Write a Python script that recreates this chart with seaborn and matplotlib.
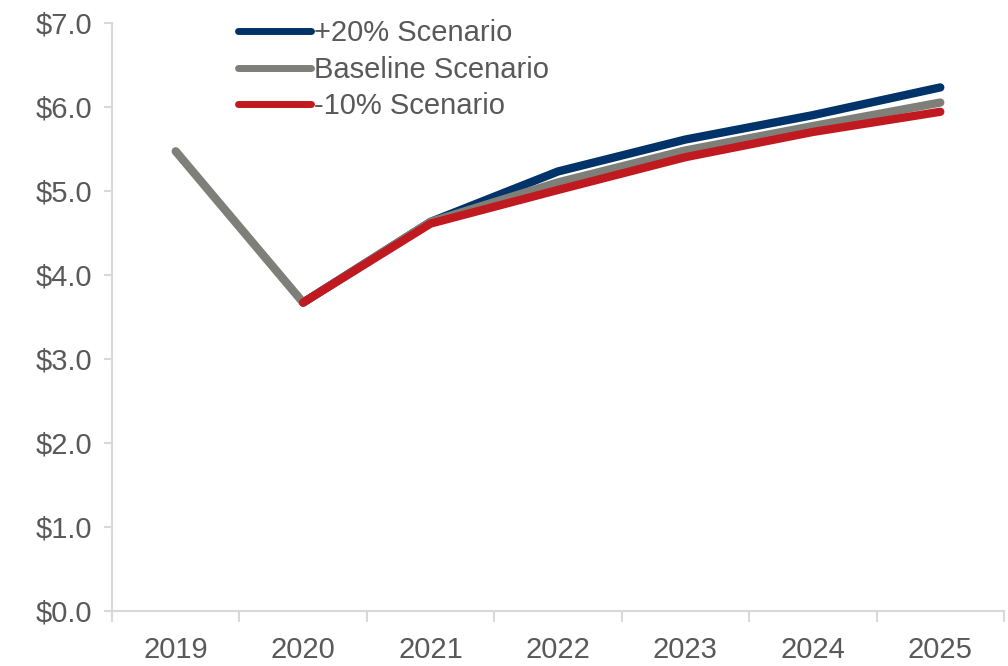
import matplotlib
matplotlib.use("Agg")
import matplotlib.pyplot as plt
import seaborn as sns
import pandas as pd
import numpy as np
from matplotlib.ticker import FuncFormatter, FixedLocator

years = [2019, 2020, 2021, 2022, 2023, 2024, 2025]
series_names = ["+20% Scenario", "Baseline Scenario", "-10% Scenario"]
up20 = [None, 3.67, 4.63, 5.23, 5.61, 5.90, 6.23]
baseline = [5.47, 3.67, 4.63, 5.10, 5.48, 5.77, 6.05]
down10 = [None, 3.67, 4.61, 5.01, 5.40, 5.70, 5.94]
colors = ["#00336A", "#7F7F7A", "#C0191F"]
y_ticks = [0, 1, 2, 3, 4, 5, 6, 7]

rows = []
for name, vals in zip(series_names, [up20, baseline, down10]):
    for yr, v in zip(years, vals):
        if v is not None:
            rows.append({"Year": yr, "Value": v, "Scenario": name})
df = pd.DataFrame(rows)

sns.set_theme(style="white")
plt.rcParams["font.family"] = ["Liberation Sans", "DejaVu Sans"]

fig = plt.figure(figsize=(10.08, 6.66), dpi=100)
ax = fig.add_axes([112 / 1008, 55 / 666, (1004 - 112) / 1008, (611 - 22.7) / 666])

sns.lineplot(data=df, x="Year", y="Value", hue="Scenario", hue_order=series_names,
             palette=colors, linewidth=6, solid_capstyle="round", ax=ax, legend=True)

ax.set_xlim(years[0] - 0.5, years[-1] + 0.5)
ax.set_ylim(0, 7)
ax.set_yticks(y_ticks)
ax.yaxis.set_major_formatter(FuncFormatter(lambda v, p: f"${v:.1f}"))
ax.set_xticks(years)
ax.set_xticklabels([str(y) for y in years])
ax.xaxis.set_minor_locator(FixedLocator([y - 0.5 for y in years] + [years[-1] + 0.5]))
ax.set_xlabel("")
ax.set_ylabel("")

for s in ["top", "right"]:
    ax.spines[s].set_visible(False)
for s in ["left", "bottom"]:
    ax.spines[s].set_color("#D9D9D9")
    ax.spines[s].set_linewidth(1.5)

ax.tick_params(axis="y", which="major", left=True, length=6, width=1.5, color="#D9D9D9",
               labelsize=21, labelcolor="#595959", pad=8)
ax.tick_params(axis="x", which="major", bottom=False, length=0, labelsize=21,
               labelcolor="#595959", pad=18)
ax.tick_params(axis="x", which="minor", bottom=True, length=8, width=1.5, color="#D9D9D9")

leg = ax.legend(loc="upper left", bbox_to_anchor=(238 / 1008, 1 - 19 / 666),
                bbox_transform=fig.transFigure, frameon=False, fontsize=21,
                handlelength=2.5, handletextpad=0.1, labelspacing=0.3,
                borderaxespad=0, borderpad=0)
for t in leg.get_texts():
    t.set_color("#595959")
for h in leg.get_lines():
    h.set_linewidth(5)
    h.set_solid_capstyle("round")

fig.savefig("out.png", dpi=100)
